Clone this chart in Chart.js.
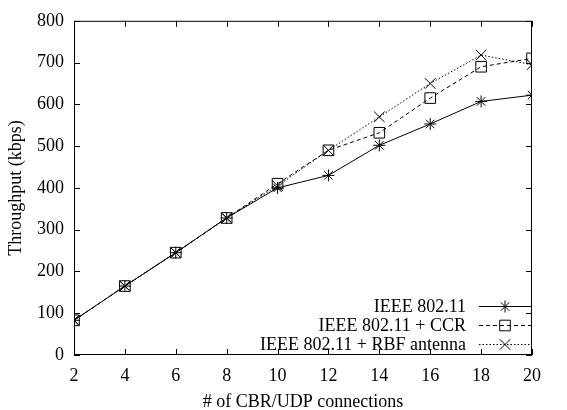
<!DOCTYPE html>
<html>
<head>
<meta charset="utf-8">
<script src="https://cdn.jsdelivr.net/npm/chart.js@4/dist/chart.umd.min.js"></script>
<style>
  html, body { margin: 0; padding: 0; background: #fff; }
  #wrap { width: 567px; height: 410px; }
</style>
</head>
<body>
<div id="wrap"><canvas id="c" width="567" height="410"></canvas></div>
<script>
// Number of CBR/UDP connections
const connections = [2, 4, 6, 8, 10, 12, 14, 16, 18, 20];
// Throughput (kbps) per scheme
const ieee80211 = [83, 165, 245, 328, 400, 430, 502, 553, 607, 622];
const ieeeCcr   = [83, 165, 245, 328, 410, 490, 532, 615, 690, 710];
const ieeeRbf   = [83, 165, 245, 328, 405, 490, 570, 650, 718, 695];
const seriesLabels = ['IEEE 802.11', 'IEEE 802.11 + CCR', 'IEEE 802.11 + RBF antenna'];
const xTicks = [2, 4, 6, 8, 10, 12, 14, 16, 18, 20];
const yTicks = [0, 100, 200, 300, 400, 500, 600, 700, 800];

const FONT = 'Liberation Serif, Times New Roman, serif';
const FSIZE = 18;

function pts(vals) { return connections.map((x, i) => ({ x, y: vals[i] })); }

const styles = [
  { pointStyle: 'star', dash: [], r: 6 },
  { pointStyle: 'rect', dash: [4, 3], r: 7.5 },
  { pointStyle: 'crossRot', dash: [1.5, 2], r: 7.5 }
];

// Box frame with inward tick marks on all four sides
const framePlugin = {
  id: 'frame',
  afterDatasetsDraw(chart) {
    const { ctx, chartArea: a, scales } = chart;
    ctx.save();
    ctx.strokeStyle = '#000';
    ctx.lineWidth = 1;
    ctx.setLineDash([]);
    ctx.strokeRect(a.left + 0.5, a.top + 0.5, a.right - a.left - 1, a.bottom - a.top - 1);
    const t = 6;
    ctx.beginPath();
    xTicks.forEach(v => {
      const px = Math.round(scales.x.getPixelForValue(v)) + 0.5;
      ctx.moveTo(px, a.bottom); ctx.lineTo(px, a.bottom - t);
      ctx.moveTo(px, a.top); ctx.lineTo(px, a.top + t);
    });
    yTicks.forEach(v => {
      const py = Math.round(scales.y.getPixelForValue(v)) + 0.5;
      ctx.moveTo(a.left, py); ctx.lineTo(a.left + t, py);
      ctx.moveTo(a.right, py); ctx.lineTo(a.right - t, py);
    });
    ctx.stroke();
    ctx.restore();
  }
};

// Key in the lower right: right-aligned label, then line sample with marker
const keyPlugin = {
  id: 'key',
  afterDatasetsDraw(chart) {
    const { ctx } = chart;
    const rows = [306, 325, 344];
    const textRight = 466, x0 = 479, x1 = 532, mx = 505;
    ctx.save();
    ctx.font = FSIZE + 'px ' + FONT;
    ctx.textAlign = 'right';
    ctx.textBaseline = 'middle';
    chart.data.datasets.forEach((ds, i) => {
      const y = rows[i] + 0.5;
      ctx.fillStyle = '#000';
      ctx.fillText(ds.label, textRight, rows[i] + 1);
      ctx.strokeStyle = '#000';
      ctx.lineWidth = 1;
      ctx.setLineDash(ds.borderDash || []);
      ctx.beginPath(); ctx.moveTo(x0, y); ctx.lineTo(x1, y); ctx.stroke();
      ctx.setLineDash([]);
      ctx.fillStyle = 'rgba(0,0,0,0)';
      Chart.helpers.drawPoint(ctx, {
        pointStyle: ds.pointStyle, radius: ds.pointRadius, rotation: 0, borderWidth: 1
      }, mx, y);
    });
    ctx.restore();
  }
};

new Chart(document.getElementById('c'), {
  type: 'line',
  data: {
    datasets: [ieee80211, ieeeCcr, ieeeRbf].map((vals, i) => ({
      label: seriesLabels[i],
      data: pts(vals),
      borderColor: '#000',
      backgroundColor: 'rgba(0,0,0,0)',
      borderWidth: 1,
      borderDash: styles[i].dash,
      pointStyle: styles[i].pointStyle,
      pointRadius: styles[i].r,
      pointBorderColor: '#000',
      pointBorderWidth: 1,
      pointBackgroundColor: 'rgba(0,0,0,0)',
      tension: 0,
      fill: false
    }))
  },
  options: {
    responsive: false,
    animation: false,
    events: [],
    layout: { padding: { top: 20, right: 35, left: 5, bottom: 0 } },
    plugins: { legend: { display: false }, tooltip: { enabled: false } },
    scales: {
      x: {
        type: 'linear', min: 2, max: 20,
        afterBuildTicks: s => { s.ticks = xTicks.map(v => ({ value: v })); },
        afterFit: s => { s.height = 55; },
        grid: { display: false, drawTicks: false },
        border: { display: false },
        ticks: { color: '#000', padding: 10, font: { family: FONT, size: FSIZE } },
        title: { display: true, text: '# of CBR/UDP connections', color: '#000',
                 font: { family: FONT, size: FSIZE }, padding: { top: 0, bottom: -3 } }
      },
      y: {
        min: 0, max: 800,
        afterBuildTicks: s => { s.ticks = yTicks.map(v => ({ value: v })); },
        afterFit: s => { s.width = 69; },
        grid: { display: false, drawTicks: false },
        border: { display: false },
        ticks: { color: '#000', padding: 10, font: { family: FONT, size: FSIZE } },
        title: { display: true, text: 'Throughput (kbps)', color: '#000',
                 font: { family: FONT, size: FSIZE }, padding: { top: 0, bottom: 0 } }
      }
    }
  },
  plugins: [framePlugin, keyPlugin]
});
</script>
</body>
</html>
